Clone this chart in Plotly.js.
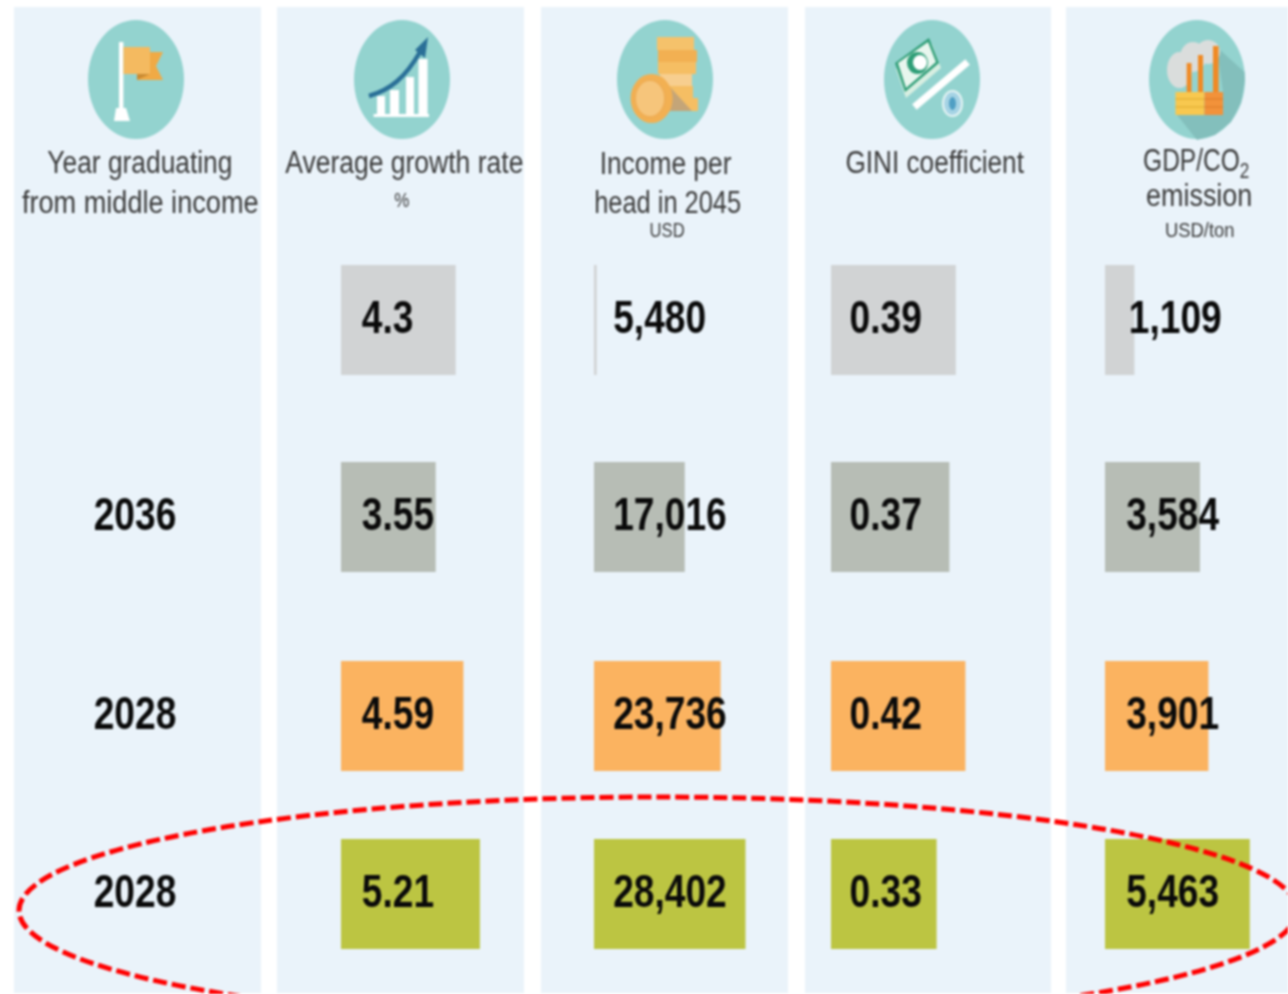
<!DOCTYPE html>
<html>
<head>
<meta charset="utf-8">
<script src="https://cdn.plot.ly/plotly-3.0.1.min.js"></script>
<style>
html,body{margin:0;padding:0;background:#fff;overflow:hidden}
#chart{width:1288px;height:994px;filter:blur(0.8px)}
</style>
</head>
<body>
<div id="chart"></div>
<script>
// ---- data ----
const yearRows = [1, 2, 3];
const yearLabels = ["2036", "2028", "2028"];
const growthRate = [4.3, 3.55, 4.59, 5.21];
const growthLabels = ["4.3", "3.55", "4.59", "5.21"];
const incomeDrawn = [500, 17016, 23736, 28402]; // the first bar is only a sliver in the picture
const incomeLabels = ["5,480", "17,016", "23,736", "28,402"];
const gini = [0.39, 0.37, 0.42, 0.33];
const giniLabels = ["0.39", "0.37", "0.42", "0.33"];
const gdpCo2 = [1109, 3584, 3901, 5463];
const gdpCo2Labels = ["1,109", "3,584", "3,901", "5,463"];
const rowColours = ["#D1D3D4", "#B7BDB5", "#FBB360", "#BCC542"];

// ---- layout helpers (pixel geometry of the page) ----
const W = 1288, H = 994;
const rowY = [320, 517, 716, 894];
const px = v => v / W, py = v => 1 - v / H;
const FONT = '"Liberation Sans",sans-serif';
const shapes = [];
const rect = (x0, y0, x1, y1, c) => shapes.push({type:'rect',xref:'paper',yref:'paper',layer:'below',
  x0:px(x0),x1:px(x1),y0:py(y0),y1:py(y1),fillcolor:c,line:{width:0}});
const ell = (x0, y0, x1, y1, c, lc, lw) => shapes.push({type:'circle',xref:'paper',yref:'paper',layer:'below',
  x0:px(x0),x1:px(x1),y0:py(y0),y1:py(y1),fillcolor:c,line:{width:lw||0,color:lc||c}});
const poly = (pts, c) => shapes.push({type:'path',xref:'paper',yref:'paper',layer:'below',
  path:'M'+pts.map(p=>px(p[0])+','+py(p[1])).join('L')+'Z',fillcolor:c,line:{width:0}});
const line = (x0, y0, x1, y1, c, w) => shapes.push({type:'line',xref:'paper',yref:'paper',layer:'below',
  x0:px(x0),x1:px(x1),y0:py(y0),y1:py(y1),line:{color:c,width:w}});

// column panels
[[14,261],[277,524],[541,788],[805,1051],[1066,1290]].forEach(p => rect(p[0],7,p[1],993,'#EAF3FA'));
// icon discs
const TEAL = '#93D3CF';
[[88,184],[354,450],[617,713],[884,980],[1149,1245]].forEach(p => ell(p[0],20,p[1],139,TEAL));

// flag
rect(119,42,123.4,114,'#FFFFFF');
poly([[116,108],[126,108],[130,121],[114,121]],'#FFFFFF');
poly([[150,52],[163,52],[156,66],[163,80],[137,80],[137,74],[150,74]],'#F0AA45');
poly([[137,74],[150,74],[137,80]],'#C98B33');
rect(123.4,47,150,74,'#F4BA60');

// growth chart
rect(373.6,114,429,117,'#FFFFFF');
rect(377,96,385,115,'#FFFFFF');
rect(390,90,399,115,'#FFFFFF');
rect(406,77,414,115,'#FFFFFF');
rect(418.5,59,427.6,115,'#FFFFFF');
shapes.push({type:'path',xref:'paper',yref:'paper',layer:'below',
  path:`M${px(369)},${py(96)}C${px(390)},${py(90)} ${px(405)},${py(78)} ${px(420)},${py(52)}`,
  line:{color:'#2A6F97',width:4.5},fillcolor:'rgba(0,0,0,0)'});
poly([[428,37],[415,50],[425,58]],'#2A6F97');

// coins
rect(657,37,694,50,'#F5C26B');
rect(658,50,697,62,'#F2B052');
rect(658,62,696,74,'#F5BE63');
rect(660,74,692,86,'#F7CE8F');
rect(660,86,693,98,'#F5BE63');
rect(665,98,698,111,'#F5BE63');
poly([[670,87],[692,111],[670,111]],'#C4A578');
ell(630.6,74,672.6,123,'#F2B052');
ell(635,80,665,117,'#F6C57B','#EFAE55',2);

// money and GINI slash
poly([[896,69],[932,44],[941,68],[906,98]],'#D8EFE2');
poly([[895,63],[929,38],[939,63],[905,92]],'#2F9E77');
poly([[898,63],[928,42],[936,62],[906,88]],'#E8F6EE');
ell(907,52,928,74,'#2F9E77');
ell(913,55,927,70,'#FFFFFF');
line(914.4,107,967.6,62,'#FFFFFF',7);
ell(943,91,962,116,'#A5D3E4','#E6F4F4',2);
ell(949,97,956,110,'#4F9FC4');

// factory
poly([[1216.7,47],[1244.5,72],[1245,80],[1241,103],[1231,122],[1215,135],[1197,140],[1175.5,113],[1223,92]],'#83BFBC');
ell(1167,52,1192,88,'#DADDDC');
ell(1180,42,1206,72,'#DADDDC');
ell(1196,40,1220,64,'#DADDDC');
rect(1186.7,63,1191.5,92,'#F08A24');
rect(1198,55,1203,92,'#F08A24');
rect(1213,46,1218.6,92,'#F08A24');
rect(1175.5,92,1204.5,115,'#F8C84F');
rect(1204.5,92,1223,115,'#F2923A');
[99,107].forEach(y => { line(1175.5,y,1204.5,y,'#DDA92F',1); line(1204.5,y,1223,y,'#D97A26',1); });

// red dashed ellipse, above the marks
shapes.push({type:'circle',xref:'paper',yref:'paper',layer:'above',
  x0:px(19),x1:px(1297),y0:py(797),y1:py(1024),fillcolor:'rgba(0,0,0,0)',
  line:{color:'#FF0000',width:5,dash:'14px,5px'}});

// header text: text, centre x, centre y, size, horizontal narrowing
const headerLines = [
  ["Year graduating",140,162,31,0.85],["from middle income",140,203,31,0.875],
  ["Average growth rate",404,162,31,0.855],["%",402,200,20,0.85],
  ["Income per",666,163,31,0.85],["head in 2045",667,203,31,0.82],["USD",667,230,20,0.83],
  ["GINI coefficient",935,162,31,0.845],
  ["GDP/CO<sub>2</sub>",1196,163,31,0.79],["emission",1199,195,31,0.87],["USD/ton",1200,230,20,0.92]
];
const annotations = headerLines.map(h => ({text:h[0],x:px(h[1]),y:py(h[2]),xref:'paper',yref:'paper',
  xanchor:'center',yanchor:'middle',showarrow:false,font:{family:FONT,size:h[3],color:'#3A3A3A'}}));

// ---- traces ----
const columns = [
  {ax:'x',  v:growthRate, t:growthLabels, off:[0.78,0.78,0.78,0.78]},
  {ax:'x2', v:incomeDrawn, t:incomeLabels, off:[3600,3600,3600,3600]},
  {ax:'x3', v:gini, t:giniLabels, off:[0.058,0.058,0.058,0.058]},
  {ax:'x4', v:gdpCo2, t:gdpCo2Labels, off:[900,800,800,800]}
];
const traces = [];
columns.forEach(c => {
  traces.push({type:'bar',orientation:'h',x:c.v,y:rowY,width:110,xaxis:c.ax,yaxis:'y',
    marker:{color:rowColours,line:{width:0}},hoverinfo:'skip'});
});
const valueFont = {family:FONT,size:47,color:'#0A0A0A',weight:700};
columns.forEach(c => {
  traces.push({type:'scatter',mode:'text',x:c.off,y:rowY.map(y=>y+1),text:c.t,
    textposition:'middle right',textfont:valueFont,cliponaxis:false,xaxis:c.ax,yaxis:'y',hoverinfo:'skip'});
});
traces.push({type:'scatter',mode:'text',x:yearLabels.map(()=>0.5),y:yearRows.map(i=>rowY[i]+1),text:yearLabels,
  textposition:'middle center',textfont:valueFont,cliponaxis:false,xaxis:'x5',yaxis:'y',hoverinfo:'skip'});

const hidden = {visible:false,fixedrange:true,showgrid:false,zeroline:false};
const layout = {
  width:W,height:H,margin:{l:0,r:0,t:0,b:0},showlegend:false,
  paper_bgcolor:'#FFFFFF',plot_bgcolor:'rgba(0,0,0,0)',
  xaxis:{...hidden,domain:[px(341),px(501)],range:[0,6],anchor:'y'},
  xaxis2:{...hidden,domain:[px(594),px(754)],range:[0,30000],anchor:'y'},
  xaxis3:{...hidden,domain:[px(831),px(991)],range:[0,0.5],anchor:'y'},
  xaxis4:{...hidden,domain:[px(1105),px(1264)],range:[0,6000],anchor:'y'},
  xaxis5:{...hidden,domain:[px(35),px(235)],range:[0,1],anchor:'y'},
  yaxis:{...hidden,domain:[0,1],range:[H,0]},
  shapes,annotations
};
Plotly.newPlot('chart',traces,layout,{displayModeBar:false,staticPlot:true}).then(gd => {
  // the reference's typeface is condensed: narrow the real text glyphs
  const narrow = (t, k) => {
    const len = t.getComputedTextLength();
    if (len > 0) { t.setAttribute('lengthAdjust','spacingAndGlyphs'); t.setAttribute('textLength', len*k); }
  };
  gd.querySelectorAll('.textpoint text').forEach(t => narrow(t, 0.79));
  gd.querySelectorAll('.annotation-text').forEach((t, i) => narrow(t, headerLines[i][4]));
});
</script>
</body>
</html>
